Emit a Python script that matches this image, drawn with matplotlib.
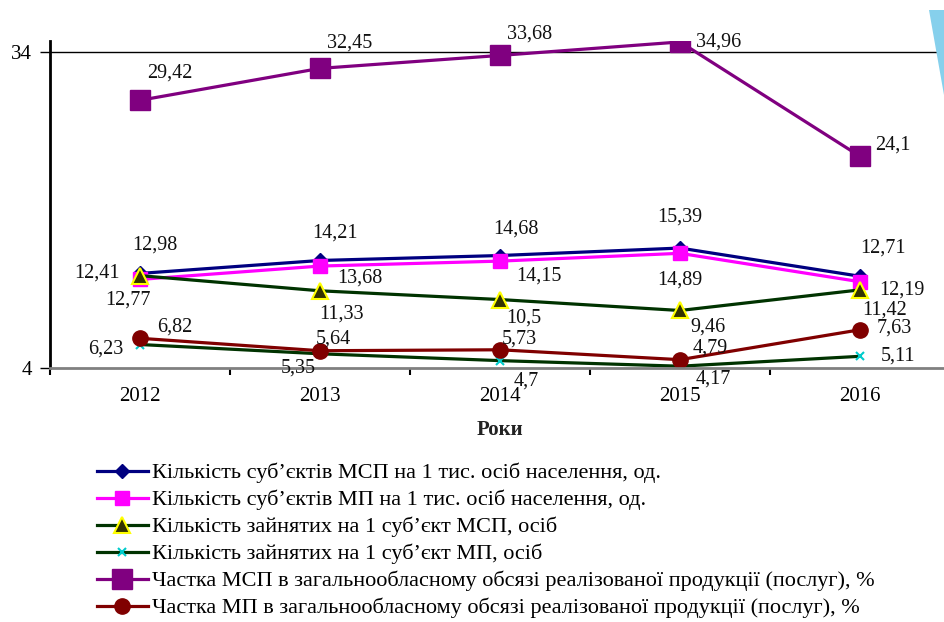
import matplotlib

matplotlib.use("Agg")
import matplotlib.pyplot as plt
from matplotlib.patches import Polygon

plt.rcParams.update({"font.family": ["Liberation Serif", "DejaVu Serif"], "font.size": 14})

years = ["2012", "2013", "2014", "2015", "2016"]
msp_subj = [12.98, 14.21, 14.68, 15.39, 12.71]
mp_subj = [12.41, 13.68, 14.15, 14.89, 12.19]
msp_empl = [12.77, 11.33, 10.5, 9.46, 11.42]
mp_empl = [6.23, 5.35, 4.7, 4.17, 5.11]
msp_share = [29.42, 32.45, 33.68, 34.96, 24.1]
mp_share = [6.82, 5.64, 5.73, 4.79, 7.63]

labels = [
    "Кількість суб’єктів МСП на 1 тис. осіб населення, од.",
    "Кількість суб’єктів МП на 1 тис. осіб населення, од.",
    "Кількість зайнятих на 1 суб’єкт МСП, осіб",
    "Кількість зайнятих на 1 суб’єкт МП, осіб",
    "Частка МСП в загальнообласному обсязі реалізованої продукції (послуг), %",
    "Частка МП в загальнообласному обсязі реалізованої продукції (послуг), %",
]

fig = plt.figure(figsize=(9.44, 6.22), dpi=100)
ax = fig.add_axes([50 / 944, 1 - 368 / 622, 900 / 944, 327 / 622])
x = range(len(years))

# series: values, line colour, marker, size, face, edge, label offsets (px)
series = [
    (msp_subj, "#000080", "D", 7, "#000080", "#000080",
     [(15, 28), (15, 27), (16, 26), (0, 31), (23, 28)]),
    (mp_subj, "#ff00ff", "s", 10, "#ff00ff", "#ff00ff",
     [(-43, 6), (40, -12), (39, -15), (0, -27), (42, -8)]),
    (msp_empl, "#003300", "^", 11, "#333300", "#ffff00",
     [(-12, -24), (21, -23), (24, -19), (28, -17), (25, -20)]),
    (mp_empl, "#003300", "x", 6, "#00cccc", "#00cccc",
     [(-34, -5), (-22, -14), (26, -20), (33, -13), (38, 0)]),
    (msp_share, "#800080", "s", 14, "#800080", "#800080",
     [(30, 27), (30, 25), (30, 21), (39, 0), (33, 11)]),
    (mp_share, "#800000", "o", 11, "#800000", "#800000",
     [(35, 11), (13, 12), (19, 11), (30, 12), (34, 2)]),
]

for (vals, col, mk, ms, fc, ec, offs), lab in zip(series, labels):
    ax.plot(x, vals, color=col, linewidth=2.3, marker=mk, markersize=ms,
            markerfacecolor=fc, markeredgecolor=ec,
            markeredgewidth=1.5 if mk in "^x" else 1, label=lab)
    for i, v in enumerate(vals):
        ax.annotate(f"{v:g}".replace(".", ","), (i, v), xytext=offs[i],
                    textcoords="offset pixels", ha="center", va="center",
                    fontsize=14.5, color="#111111")

ax.set_xlim(-0.5, 4.5)
ax.set_ylim(4, 35.05)
ax.axhline(34, color="black", linewidth=1.0, zorder=0)
ax.set_yticks([4, 34])
ax.set_xticks(x)
ax.set_xticklabels(years, fontsize=15)
ax.set_xticks([i - 0.5 for i in range(6)], minor=True)
ax.tick_params(axis="x", which="major", length=0, pad=14)
ax.tick_params(axis="x", which="minor", length=5, width=1.5, color="black")
ax.tick_params(axis="y", length=7, width=1.0, pad=6, labelsize=15)
for s in ("top", "right"):
    ax.spines[s].set_visible(False)
ax.spines["left"].set_linewidth(2.0)
ax.spines["bottom"].set_color("#808080")
ax.spines["bottom"].set_linewidth(2.0)
ax.set_xlabel("Роки", fontweight="bold", fontsize=15, labelpad=10, color="#222222")

fig.legend(loc="upper left", bbox_to_anchor=(88 / 944, 1 - 454 / 622), frameon=False,
           handlelength=2.3, handletextpad=0.2, labelspacing=0.29, fontsize=16,
           borderaxespad=0)

# light blue decoration at the top right corner
fig.patches.append(Polygon([(929 / 944, 1 - 10 / 622), (944 / 944, 1 - 10 / 622),
                            (944 / 944, 1 - 95 / 622)], closed=True,
                           transform=fig.transFigure, facecolor="#86d0ec",
                           edgecolor="none"))

fig.savefig("out.png", dpi=100)
